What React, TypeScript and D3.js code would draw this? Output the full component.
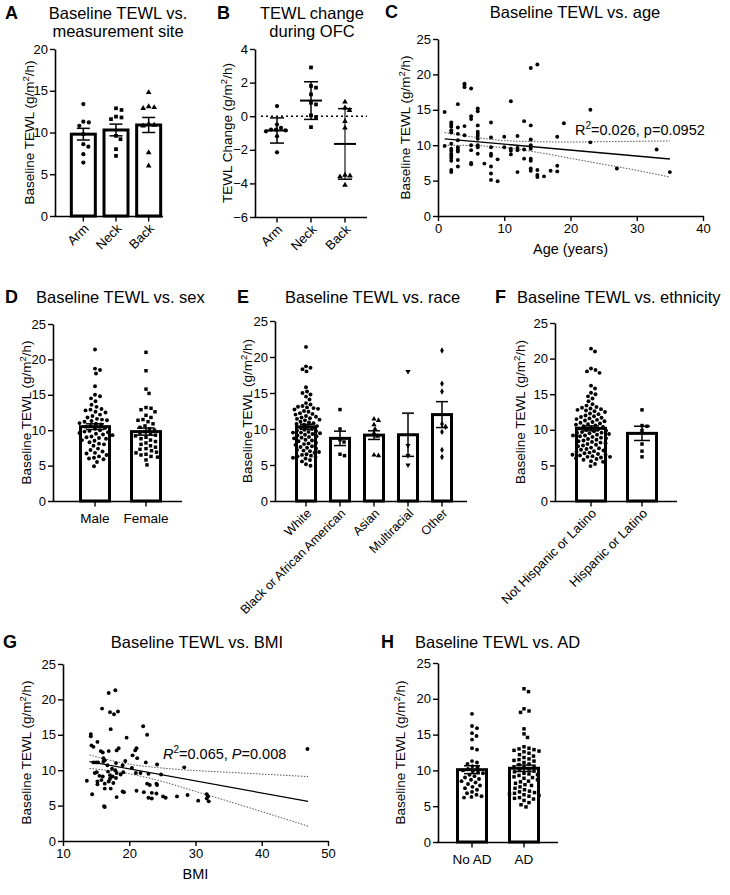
import React, { useEffect, useRef } from 'react';
import * as d3 from 'd3';

const FONT = "'Liberation Sans', Arial, Helvetica, sans-serif";

// A - baseline TEWL by measurement site (mean ± SEM)
const siteLabels = ['Arm', 'Neck', 'Back'];
const siteArm = [13.4, 11.3, 11.2, 10.8, 9.8, 8.6, 8.3, 7.4, 6.4];
const siteNeck = [12.9, 12.7, 11.9, 11.8, 11.6, 9.6, 9.2, 8.0, 7.2];
const siteBack = [14.8, 13.1, 13.0, 12.9, 11.0, 10.9, 10.8, 7.6, 6.0];
const siteMean = [9.8, 10.3, 10.9];
const siteSem = [0.7, 0.7, 0.9];
const siteTicks = [0, 5, 10, 15, 20];

// B - TEWL change during OFC (mean ± SD)
const ofcArm = [0.6, -0.5, -0.7, -0.8, -0.8, -0.85, -0.9, -1.2, -2.15];
const ofcNeck = [2.9, 1.8, 1.7, 1.3, 0.8, 0.7, 0.05, -0.05, -0.65];
const ofcBack = [0.85, 0.5, 0.35, -0.3, -0.7, -3.5, -3.55, -3.6, -4.1];
const ofcMean = [-0.85, 0.93, -1.65];
const ofcSd = [0.75, 1.12, 2.1];
const ofcTicks = [-6, -4, -2, 0, 2, 4];

// C - baseline TEWL vs age
const agePoints = [
  [1, 14.7], [1, 9.9],
  [2, 13.2], [2, 12.9], [2, 12.6], [2, 12.1], [2, 11.8], [2, 10.2], [2, 9.5], [2, 9.2], [2, 8.8], [2, 8.5], [2, 8.2], [2, 7.8], [2, 6.5], [2, 6.2],
  [3, 15.8], [3, 12.5], [3, 11.6], [3, 10.7], [3, 9.7], [3, 9.4], [3, 9.1], [3, 7.9], [3, 7.0],
  [4, 18.7], [4, 18.5], [4, 18.2], [4, 12.7], [4, 11.4],
  [5, 18.0], [5, 14.1], [5, 13.7], [5, 10.0], [5, 9.3], [5, 7.5], [5, 7.3],
  [6, 15.2], [6, 14.8], [6, 12.8], [6, 11.9], [6, 11.6], [6, 11.3], [6, 10.9], [6, 10.0], [6, 9.7], [6, 8.8],
  [7, 7.4],
  [8, 13.2], [8, 11.1], [8, 9.7], [8, 8.8], [8, 8.5], [8, 7.0], [8, 6.0], [8, 5.1],
  [9, 8.0], [9, 4.9],
  [10, 11.2], [10, 9.7],
  [11, 16.2], [11, 9.5], [11, 9.2], [11, 8.7],
  [12, 11.3], [12, 9.6], [12, 9.3], [12, 6.2],
  [13, 13.4], [13, 9.4], [13, 8.1],
  [14, 20.9], [14, 12.8], [14, 10.8], [14, 10.0], [14, 9.8], [14, 9.5], [14, 8.1], [14, 7.8], [14, 6.7], [14, 6.4],
  [15, 21.4], [15, 6.5], [15, 5.8], [15, 5.5],
  [16, 5.6], [17, 6.4],
  [18, 11.2], [18, 7.1], [18, 6.3],
  [19, 13.1], [23, 15.0], [23, 10.4], [27, 6.7], [33, 9.4], [35, 6.2],
];
const ageFit = [[1, 10.9], [35, 8.05]];
const ageBandX = [1, 5, 10, 15, 20, 25, 30, 35];
const ageBandHi = [11.8, 11.2, 10.65, 10.5, 10.45, 10.5, 10.55, 10.6];
const ageBandLo = [10.0, 9.95, 9.65, 9.0, 8.15, 7.3, 6.45, 5.5];
const ageTicks = [0, 10, 20, 30, 40];
const tewlTicks = [0, 5, 10, 15, 20, 25];

// D - sex
const sexLabels = ['Male', 'Female'];
const sexMale = [21.4, 18.7, 18.5, 18.0, 16.2, 15.0, 14.8, 14.5, 14.1, 13.6, 13.3, 13.0, 12.9, 12.8, 12.6, 12.5, 12.2, 12.0,
  11.8, 11.6, 11.5, 11.4, 11.3, 11.2, 11.0, 10.9, 10.8, 10.6, 10.5, 10.3, 10.2, 10.0, 9.9, 9.8, 9.7, 9.6, 9.5, 9.4,
  9.3, 9.1, 9.0, 8.9, 8.8, 8.6, 8.5, 8.3, 8.1, 8.0, 7.8, 7.4, 7.2, 7.0, 6.8, 6.7, 6.5, 6.3, 6.1, 6.0, 5.9, 5.5, 4.9];
const sexFemale = [21.0, 18.4, 15.8, 15.2, 13.2, 13.1, 12.9, 12.6, 12.1, 11.8, 11.5, 11.4, 11.2, 10.9, 10.6, 10.4, 10.2,
  10.0, 9.8, 9.6, 9.5, 9.3, 9.2, 9.0, 8.8, 8.6, 8.4, 8.2, 8.0, 7.8, 7.6, 7.4, 7.3, 7.1, 6.9, 6.8, 6.6, 6.5, 6.3, 6.2, 5.8, 5.1];
const sexMean = [10.5, 9.8];
const sexSem = [0.4, 0.5];

// E - race
const raceLabels = ['White', 'Black or African American', 'Asian', 'Multiracial', 'Other'];
const raceWhite = [21.4, 18.7, 18.5, 18.3, 18.0, 15.8, 15.2, 15.0, 14.8, 14.5, 14.1, 13.6, 13.4, 13.2, 13.1, 13.0, 12.9,
  12.8, 12.7, 12.5, 12.4, 12.2, 12.1, 12.0, 11.8, 11.7, 11.6, 11.5, 11.4, 11.3, 11.2, 11.0, 10.9, 10.8, 10.7, 10.6, 10.4,
  10.3, 10.2, 10.0, 9.9, 9.8, 9.7, 9.6, 9.5, 9.5, 9.4, 9.3, 9.2, 9.1, 9.0, 8.9, 8.8, 8.7, 8.5, 8.4, 8.3, 8.1, 8.0, 7.9,
  7.8, 7.6, 7.5, 7.4, 7.3, 7.1, 7.0, 6.9, 6.8, 6.7, 6.5, 6.4, 6.3, 6.2, 6.1, 6.0, 5.9, 5.7, 5.5, 5.1, 4.9];
const raceBlack = [12.7, 10.0, 8.5, 8.2, 6.5, 6.3];
const raceAsian = [11.4, 11.2, 10.6, 10.0, 9.4, 9.0, 6.4, 6.3];
const raceMulti = [18.0, 7.7, 6.3, 5.0];
const raceOther = [20.9, 16.3, 15.2, 10.7, 10.3, 9.6, 7.1, 6.1];
const raceMean = [10.3, 8.7, 9.15, 9.2, 12.0];
const raceSem = [0.35, 1.0, 0.6, 3.0, 1.8];

// F - ethnicity
const ethLabels = ['Not Hispanic or Latino', 'Hispanic or Latino'];
const ethNot = [21.4, 21.0, 18.6, 18.4, 18.2, 18.0, 16.2, 15.8, 15.2, 15.0, 14.7, 14.4, 14.0, 13.6, 13.4, 13.2, 13.1,
  13.0, 12.9, 12.8, 12.7, 12.6, 12.5, 12.3, 12.2, 12.0, 11.9, 11.8, 11.7, 11.6, 11.5, 11.4, 11.3, 11.2, 11.1, 11.0, 10.9,
  10.8, 10.7, 10.6, 10.5, 10.4, 10.3, 10.2, 10.1, 10.0, 9.9, 9.8, 9.7, 9.6, 9.6, 9.5, 9.4, 9.3, 9.2, 9.2, 9.1, 9.0, 8.9,
  8.8, 8.7, 8.6, 8.5, 8.4, 8.3, 8.2, 8.1, 8.0, 7.9, 7.8, 7.7, 7.5, 7.4, 7.3, 7.2, 7.1, 7.0, 6.9, 6.8, 6.7, 6.6, 6.5, 6.5,
  6.4, 6.3, 6.2, 6.2, 6.1, 6.0, 5.9, 5.8, 5.6, 5.5, 5.2, 4.9];
const ethHisp = [12.8, 10.6, 10.5, 9.9, 8.0, 7.0, 6.2];
const ethMean = [10.2, 9.5];
const ethSem = [0.35, 1.0];

// G - baseline TEWL vs BMI
const bmiPoints = [
  [13.6, 8.5], [14.2, 15.1], [14.2, 14.8], [14.3, 13.5], [14.6, 13.3], [14.4, 6.6], [14.6, 11.1], [15.0, 11.1], [15.3, 11.1],
  [15.2, 14.0], [14.8, 9.6], [15.1, 9.7], [15.5, 9.2], [15.2, 8.4], [15.2, 8.0], [15.7, 12.7], [16.0, 12.5], [16.1, 11.7],
  [16.3, 11.4], [16.1, 11.2], [15.9, 18.7], [16.0, 9.1], [15.8, 8.6], [16.3, 8.1], [16.3, 7.4], [16.9, 20.9], [17.1, 18.2],
  [17.2, 15.8], [16.9, 12.7], [16.7, 10.7], [16.8, 9.8], [17.1, 9.3], [17.1, 8.8], [16.9, 8.4], [17.2, 7.4], [17.9, 21.3],
  [17.7, 17.9], [18.3, 18.3], [18.1, 12.8], [18.4, 13.1], [18.0, 11.0], [17.9, 10.0], [18.1, 9.6], [18.0, 8.9], [18.1, 6.2],
  [17.5, 9.1], [17.6, 8.2], [17.4, 10.2], [16.2, 4.9], [16.3, 4.8], [19.0, 10.7], [19.1, 9.7], [18.7, 9.4], [19.4, 11.3],
  [19.6, 14.6], [19.0, 7.0], [19.2, 6.9], [20.4, 10.3], [20.5, 12.1], [20.9, 12.8], [21.1, 13.1], [21.2, 11.7], [21.0, 9.6],
  [21.1, 7.1], [22.1, 16.2], [22.7, 15.0], [22.5, 11.1], [21.7, 9.6], [22.2, 6.9], [22.7, 8.1], [22.9, 6.1], [23.4, 6.0],
  [22.9, 9.5], [23.1, 7.9], [24.2, 10.8], [24.1, 8.1], [24.2, 7.9], [23.4, 6.8], [24.1, 6.7], [24.8, 9.4], [25.1, 6.3],
  [25.5, 6.1], [27.2, 6.3], [28.3, 10.4], [28.8, 6.5], [30.4, 5.7], [31.7, 6.6], [31.7, 6.0], [32.0, 5.6], [31.9, 6.3],
  [46.9, 13.0],
];
const bmiFit = [[14, 11.2], [47, 5.6]];
const bmiBandX = [14, 20, 25, 30, 35, 40, 47];
const bmiBandHi = [12.15, 10.85, 10.3, 9.95, 9.7, 9.45, 9.1];
const bmiBandLo = [10.25, 9.5, 8.4, 7.0, 5.6, 4.15, 2.1];
const bmiTicks = [10, 20, 30, 40, 50];

// H - atopic dermatitis
const adLabels = ['No AD', 'AD'];
const adNo = [17.9, 16.2, 15.9, 15.2, 14.8, 14.3, 13.1, 12.9, 11.3, 11.1, 10.9, 10.6, 10.4, 10.2, 10.0, 9.9, 9.7, 9.6,
  9.4, 9.2, 9.0, 8.8, 8.7, 8.5, 8.3, 8.1, 7.9, 7.7, 7.5, 7.3, 7.0, 6.8, 6.6, 6.4, 6.3, 6.2];
const adYes = [21.4, 21.0, 18.6, 18.3, 18.1, 15.8, 15.1, 14.6, 13.3, 13.1, 13.0, 12.9, 12.8, 12.7, 12.6, 12.4, 12.2,
  12.0, 11.8, 11.6, 11.5, 11.4, 11.3, 11.1, 10.9, 10.8, 10.6, 10.5, 10.4, 10.2, 10.0, 9.9, 9.8, 9.6, 9.5, 9.4, 9.3, 9.1,
  9.0, 8.9, 8.7, 8.5, 8.4, 8.2, 8.0, 7.9, 7.7, 7.5, 7.3, 7.1, 7.0, 6.9, 6.8, 6.7, 6.6, 6.5, 6.4, 6.2, 6.1, 6.0, 5.8,
  5.5, 5.2, 4.9];
const adMean = [10.1, 10.3];
const adSem = [0.55, 0.45];

const SHAPES: any = {
  circle: d3.symbolCircle,
  square: d3.symbolSquare,
  triangle: d3.symbolTriangle,
  down: d3.symbolTriangle,
  diamond: d3.symbolDiamond,
};

function text(g: any, x: number, y: number, s: string, size: number) {
  return g.append('text').attr('x', x).attr('y', y)
    .attr('font-family', FONT).attr('font-size', size).attr('fill', '#000').text(s);
}

function panelTitle(g: any, letter: string, lx: number, lines: string[], tx: number, ty: number, anchor: string) {
  text(g, lx, ty, letter, 18).attr('font-weight', 'bold');
  lines.forEach((l, i) => text(g, tx, ty + i * 18, l, 16.5).attr('text-anchor', anchor));
}

function yLabel(g: any, x: number, yMid: number, main: string) {
  const t = g.append('text')
    .attr('transform', `translate(${x},${yMid}) rotate(-90)`)
    .attr('text-anchor', 'middle').attr('font-family', FONT).attr('font-size', 13.5);
  t.append('tspan').text(main + ' (g/m');
  t.append('tspan').attr('dy', -5).attr('font-size', 9.5).text('2');
  t.append('tspan').attr('dy', 5).text('/h)');
}

function styleAxis(ax: any) {
  ax.select('.domain').attr('stroke-width', 1.6);
  ax.selectAll('.tick line').attr('stroke-width', 1.4);
  ax.selectAll('.tick text').attr('font-family', FONT).attr('font-size', 13).attr('fill', '#000');
}

function yAxis(g: any, y: any, x0: number, ticks: number[]) {
  const ax = g.append('g').attr('transform', `translate(${x0},0)`)
    .call(d3.axisLeft(y).tickValues(ticks).tickSize(5).tickSizeOuter(0).tickPadding(2));
  styleAxis(ax);
}

// simple beeswarm: horizontal spread so markers don't overlap
function swarm(vals: number[], y: any, cx: number, gap: number) {
  const pts = vals.map(v => ({ v, x: cx, y: y(v) })).sort((a, b) => b.v - a.v);
  const placed: any[] = [];
  pts.forEach(p => {
    for (let k = 0; k < 400; k++) {
      const cands = k === 0 ? [0] : [k * 0.5, -k * 0.5];
      const dx = cands.find(d => placed.every(q => (q.x - cx - d) ** 2 + (q.y - p.y) ** 2 >= gap * gap));
      if (dx !== undefined) { p.x = cx + dx; break; }
    }
    placed.push(p);
  });
  return placed;
}

function markers(g: any, pts: any[], shape: string, size: number) {
  const sym = d3.symbol().type(SHAPES[shape]).size(size);
  g.selectAll(null).data(pts).enter().append('path')
    .attr('d', sym)
    .attr('transform', (d: any) => `translate(${d.x},${d.y})${shape === 'down' ? ' rotate(180)' : ''}`)
    .attr('fill', '#000');
}

function line(g: any, x1: number, y1: number, x2: number, y2: number, w: number) {
  return g.append('line').attr('x1', x1).attr('y1', y1).attr('x2', x2).attr('y2', y2)
    .attr('stroke', '#000').attr('stroke-width', w);
}

function barPanel(svg: any, p: any) {
  const g = svg.append('g');
  const y = d3.scaleLinear().domain(p.domain).range([p.yBot, p.yTop]);
  const x = d3.scaleBand().domain(p.cats).range(p.band);
  const cx = (c: string) => (x(c) as number) + x.bandwidth() / 2;

  if (p.mode === 'bar') {
    g.selectAll(null).data(p.cats).enter().append('rect')
      .attr('x', (c: string) => cx(c) - p.barW / 2 + 1.5)
      .attr('y', (c: string, i: number) => y(p.means[i]))
      .attr('width', p.barW - 3)
      .attr('height', (c: string, i: number) => p.yBot - y(p.means[i]))
      .attr('fill', '#fff').attr('stroke', '#000').attr('stroke-width', 3);
  }
  if (p.zeroLine) {
    line(g, p.x0 + 6, y(0), p.xEnd, y(0), 1.5).attr('stroke-dasharray', '2,3');
  }
  p.cats.forEach((c: string, i: number) => {
    markers(g, swarm(p.groups[i], y, cx(c), p.gap), p.shapes[i], p.msize);
  });
  p.cats.forEach((c: string, i: number) => {
    const m = p.means[i], e = p.errs[i], X = cx(c);
    const cw = p.capW;
    line(g, X, y(m - e), X, y(m + e), p.mode === 'bar' ? 1.5 : (i === 2 ? 1.1 : 1.5));
    line(g, X - cw / 2, y(m + e), X + cw / 2, y(m + e), 1.5);
    line(g, X - cw / 2, y(m - e), X + cw / 2, y(m - e), 1.5);
    if (p.mode === 'line') line(g, X - p.meanW / 2, y(m), X + p.meanW / 2, y(m), 2);
  });

  yAxis(g, y, p.x0, p.ticks);
  line(g, p.x0 - 0.8, p.yBot + 0.5, p.xEnd, p.yBot + 0.5, 1.6);
  p.cats.forEach((c: string) => {
    line(g, cx(c), p.yBot, cx(c), p.yBot + 5.5, 1.4);
    if (p.rotate) {
      text(g, 0, 0, c, p.labelSize)
        .attr('transform', `translate(${cx(c) + 3},${p.yBot + 10}) rotate(-45)`)
        .attr('text-anchor', 'end').attr('dy', '0.35em');
    } else {
      text(g, cx(c), p.yBot + 22, c, 13.5).attr('text-anchor', 'middle');
    }
  });
  yLabel(g, p.ylabX, (p.yTop + p.yBot) / 2, p.ylab);
}

function scatterPanel(svg: any, p: any) {
  const g = svg.append('g');
  const x = d3.scaleLinear().domain(p.xDomain).range([p.x0, p.x1]);
  const y = d3.scaleLinear().domain([0, 25]).range([p.yBot, p.yTop]);
  const curve = d3.line().x((d: any) => x(d[0])).y((d: any) => y(d[1])).curve(d3.curveMonotoneX);
  [p.bandHi, p.bandLo].forEach((band: number[]) => {
    g.append('path').attr('d', curve(p.bandX.map((bx: number, i: number) => [bx, band[i]])))
      .attr('fill', 'none').attr('stroke', '#555').attr('stroke-width', 1).attr('stroke-dasharray', '1.5,1.5');
  });
  g.append('path').attr('d', curve(p.fit)).attr('fill', 'none').attr('stroke', '#000').attr('stroke-width', 1.3);
  markers(g, p.points.map((d: number[]) => ({ x: x(d[0]), y: y(d[1]) })), 'circle', 12);

  yAxis(g, y, p.x0, tewlTicks);
  const ax = g.append('g').attr('transform', `translate(0,${p.yBot})`)
    .call(d3.axisBottom(x).tickValues(p.xTicks).tickSize(5).tickSizeOuter(0).tickPadding(3));
  styleAxis(ax);
  text(g, (p.x0 + p.x1) / 2, p.yBot + 38, p.xlab, 14.5).attr('text-anchor', 'middle');
  yLabel(g, p.ylabX, (p.yTop + p.yBot) / 2, 'Baseline TEWL');

  const t = g.append('text').attr('x', p.statX).attr('y', p.statY)
    .attr('font-family', FONT).attr('font-size', 14.5);
  t.append('tspan').attr('font-style', p.italic ? 'italic' : null).text('R');
  t.append('tspan').attr('dy', -6).attr('font-size', 10).text('2');
  t.append('tspan').attr('dy', 6).text(p.stat1);
  t.append('tspan').attr('font-style', p.italic ? 'italic' : null).text(p.pSym);
  t.append('tspan').text(p.stat2);
}

export default function App() {
  const ref = useRef<SVGSVGElement>(null);

  useEffect(() => {
    const svg = d3.select(ref.current);
    svg.selectAll('*').remove();

    // A
    panelTitle(svg, 'A', 5, ['Baseline TEWL vs.', 'measurement site'], 118, 19, 'middle');
    barPanel(svg, {
      mode: 'bar', x0: 55, xEnd: 163, yTop: 49, yBot: 216, domain: [0, 20], ticks: siteTicks,
      band: [67, 165], cats: siteLabels, groups: [siteArm, siteNeck, siteBack], means: siteMean, errs: siteSem,
      shapes: ['circle', 'square', 'triangle'], msize: 14, gap: 5.5, barW: 27, capW: 13,
      rotate: true, labelSize: 13, ylabX: 34, ylab: 'Baseline TEWL',
    });

    // B
    panelTitle(svg, 'B', 217, ['TEWL change', 'during OFC'], 312, 19, 'middle');
    barPanel(svg, {
      mode: 'line', zeroLine: true, x0: 255, xEnd: 367, yTop: 49, yBot: 217, domain: [-6, 4], ticks: ofcTicks,
      band: [260, 362], cats: siteLabels, groups: [ofcArm, ofcNeck, ofcBack], means: ofcMean, errs: ofcSd,
      shapes: ['circle', 'square', 'triangle'], msize: 14, gap: 5.0, capW: 14, meanW: 22,
      rotate: true, labelSize: 13, ylabX: 232, ylab: 'TEWL Change',
    });

    // C
    panelTitle(svg, 'C', 385, ['Baseline TEWL vs. age'], 575, 18, 'middle');
    scatterPanel(svg, {
      x0: 438, x1: 703, yTop: 39, yBot: 216, xDomain: [0, 40], xTicks: ageTicks, points: agePoints,
      fit: ageFit, bandX: ageBandX, bandHi: ageBandHi, bandLo: ageBandLo, xlab: 'Age (years)', ylabX: 410,
      statX: 575, statY: 135, italic: false, stat1: '=0.026, ', pSym: 'p', stat2: '=0.0952',
    });

    // D
    panelTitle(svg, 'D', 5, ['Baseline TEWL vs. sex'], 36, 303, 'start');
    barPanel(svg, {
      mode: 'bar', x0: 53, xEnd: 182, yTop: 324, yBot: 501, domain: [0, 25], ticks: tewlTicks,
      band: [69.5, 171.5], cats: sexLabels, groups: [sexMale, sexFemale], means: sexMean, errs: sexSem,
      shapes: ['circle', 'square'], msize: 12, gap: 5.0, barW: 32, capW: 18,
      rotate: false, ylabX: 31, ylab: 'Baseline TEWL',
    });

    // E
    panelTitle(svg, 'E', 237, ['Baseline TEWL vs. race'], 285, 303, 'start');
    barPanel(svg, {
      mode: 'bar', x0: 275, xEnd: 467, yTop: 321, yBot: 501, domain: [0, 25], ticks: tewlTicks,
      band: [289, 459], cats: raceLabels, groups: [raceWhite, raceBlack, raceAsian, raceMulti, raceOther],
      means: raceMean, errs: raceSem, shapes: ['circle', 'square', 'triangle', 'down', 'diamond'],
      msize: 12, gap: 4.4, barW: 22, capW: 12, rotate: true, labelSize: 12.5, ylabX: 252, ylab: 'Baseline TEWL',
    });

    // F
    panelTitle(svg, 'F', 495, ['Baseline TEWL vs. ethnicity'], 517, 303, 'start');
    barPanel(svg, {
      mode: 'bar', x0: 555, xEnd: 677, yTop: 323, yBot: 501, domain: [0, 25], ticks: tewlTicks,
      band: [565.5, 667.5], cats: ethLabels, groups: [ethNot, ethHisp], means: ethMean, errs: ethSem,
      shapes: ['circle', 'square'], msize: 12, gap: 4.6, barW: 32, capW: 16,
      rotate: true, labelSize: 13, ylabX: 525, ylab: 'Baseline TEWL',
    });

    // G
    panelTitle(svg, 'G', 3, ['Baseline TEWL vs. BMI'], 197, 648, 'middle');
    scatterPanel(svg, {
      x0: 63, x1: 328, yTop: 664, yBot: 841, xDomain: [10, 50], xTicks: bmiTicks, points: bmiPoints,
      fit: bmiFit, bandX: bmiBandX, bandHi: bmiBandHi, bandLo: bmiBandLo, xlab: 'BMI', ylabX: 31,
      statX: 163, statY: 759, italic: true, stat1: '=0.065, ', pSym: 'P', stat2: '=0.008',
    });

    // H
    panelTitle(svg, 'H', 381, ['Baseline TEWL vs. AD'], 415, 648, 'start');
    barPanel(svg, {
      mode: 'bar', x0: 438, xEnd: 558, yTop: 663, yBot: 842, domain: [0, 25], ticks: tewlTicks,
      band: [446, 550], cats: adLabels, groups: [adNo, adYes], means: adMean, errs: adSem,
      shapes: ['circle', 'square'], msize: 12, gap: 5.0, barW: 32, capW: 16,
      rotate: false, ylabX: 405, ylab: 'Baseline TEWL',
    });
  }, []);

  return (
    <svg ref={ref} width={730} height={895}
      style={{ position: 'absolute', left: 0, top: 0, background: '#fff' }} />
  );
}
